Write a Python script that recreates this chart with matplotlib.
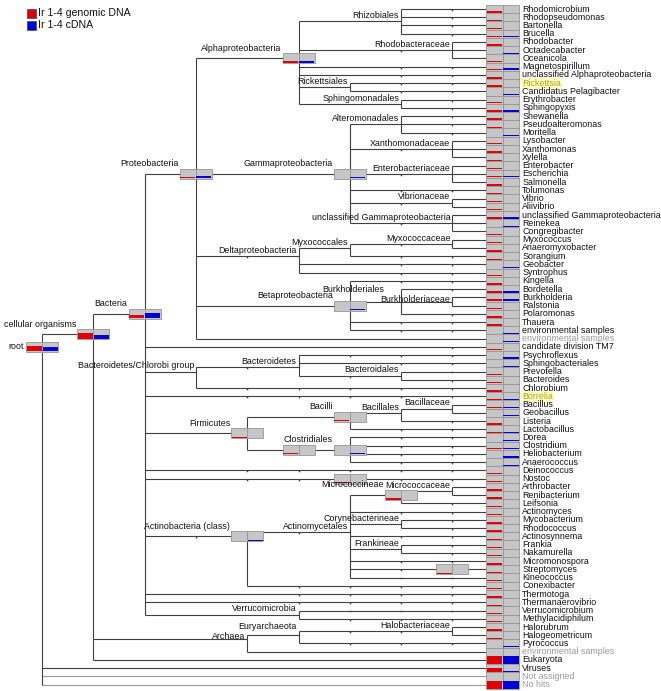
import matplotlib
matplotlib.use("Agg")
import matplotlib.pyplot as plt
from matplotlib.patches import Rectangle
import numpy as np

plt.rcParams['font.family'] = ['Liberation Sans', 'DejaVu Sans']

# ---------------- data ----------------
legend_labels = ["Ir 1-4 genomic DNA", "Ir 1-4 cDNA"]

# internal taxa: id, parent, shown label, hidden ranks on incoming edge
node_ids = ["root", "cellular", "Bacteria", "Proteobacteria", "Alpha", "Rhizobiales",
            "Rhodobacteraceae", "Rickettsiales", "Sphingomonadales", "Gamma",
            "Alteromonadales", "Xanthomonadaceae", "Enterobacteriaceae", "Vibrionaceae",
            "uGamma", "Delta", "Myxococcales", "Myxococcaceae", "Beta", "Burkholderiales",
            "Burkholderiaceae", "BCgroup", "Bacteroidetes", "Bacteroidales", "Firmicutes",
            "Bacilli", "Bacillales", "Bacillaceae", "Clostridia", "Clostridiales",
            "Cyanobacteria", "Actinobacteria", "Actinomycetales", "Micrococcineae",
            "Micrococcaceae", "Corynebacterineae", "Frankineae", "Streptomycetaceae",
            "Verrucomicrobia", "Archaea", "Euryarchaeota", "Halobacteriaceae"]
node_parent = [None, "root", "cellular", "Bacteria", "Proteobacteria", "Alpha",
               "Alpha", "Alpha", "Alpha", "Proteobacteria",
               "Gamma", "Gamma", "Gamma", "Gamma",
               "Gamma", "Proteobacteria", "Delta", "Myxococcales", "Proteobacteria", "Beta",
               "Burkholderiales", "Bacteria", "BCgroup", "Bacteroidetes", "Bacteria",
               "Firmicutes", "Bacilli", "Bacillales", "Firmicutes", "Clostridia",
               "Bacteria", "Bacteria", "Actinobacteria", "Actinomycetales",
               "Micrococcineae", "Actinomycetales", "Actinomycetales", "Actinomycetales",
               "Bacteria", "cellular", "Archaea", "Euryarchaeota"]
node_label = ["root", "cellular organisms", "Bacteria", "Proteobacteria", "Alphaproteobacteria",
              "Rhizobiales", "Rhodobacteraceae", "Rickettsiales", "Sphingomonadales",
              "Gammaproteobacteria", "Alteromonadales", "Xanthomonadaceae", "Enterobacteriaceae",
              "Vibrionaceae", "unclassified Gammaproteobacteria", "Deltaproteobacteria",
              "Myxococcales", "Myxococcaceae", "Betaproteobacteria", "Burkholderiales",
              "Burkholderiaceae", "Bacteroidetes/Chlorobi group", "Bacteroidetes",
              "Bacteroidales", "Firmicutes", "Bacilli", "Bacillales", "Bacillaceae", "",
              "Clostridiales", "", "Actinobacteria (class)", "Actinomycetales",
              "Micrococcineae", "Micrococcaceae", "Corynebacterineae", "Frankineae", "",
              "Verrucomicrobia", "Archaea", "Euryarchaeota", "Halobacteriaceae"]
node_hidden = [0, 0, 0, 0, 0, 0, 1, 0, 0, 0,
               0, 1, 1, 1, 1, 1, 0, 1, 0, 0,
               0, 0, 1, 1, 0, 0, 0, 0, 0, 0,
               2, 1, 1, 0, 0, 0, 0, 1, 0, 0, 0, 2]
# taxa with assigned reads (drawn as a two-part box) and their bar fractions
box_ids = ["root", "cellular", "Bacteria", "Proteobacteria", "Alpha", "Gamma", "Beta",
           "Firmicutes", "Bacilli", "Clostridia", "Clostridiales", "Cyanobacteria",
           "Actinobacteria", "Micrococcineae", "Streptomycetaceae"]
box_genomic = [0.55, 0.55, 0.36, 0.12, 0.22, 0.0, 0.0, 0.10, 0.11, 0.10, 0.0, 0.10,
               0.0, 0.12, 0.11]
box_cdna = [0.46, 0.37, 0.55, 0.22, 0.22, 0.10, 0.10, 0.0, 0.0, 0.0, 0.13, 0.0,
            0.10, 0.0, 0.0]

leaf_names = ["Rhodomicrobium", "Rhodopseudomonas", "Bartonella", "Brucella", "Rhodobacter",
              "Octadecabacter", "Oceanicola", "Magnetospirillum",
              "unclassified Alphaproteobacteria", "Rickettsia", "Candidatus Pelagibacter",
              "Erythrobacter", "Sphingopyxis", "Shewanella", "Pseudoalteromonas", "Moritella",
              "Lysobacter", "Xanthomonas", "Xylella", "Enterobacter", "Escherichia",
              "Salmonella", "Tolumonas", "Vibrio", "Aliivibrio",
              "unclassified Gammaproteobacteria", "Reinekea", "Congregibacter", "Myxococcus",
              "Anaeromyxobacter", "Sorangium", "Geobacter", "Syntrophus", "Kingella",
              "Bordetella", "Burkholderia", "Ralstonia", "Polaromonas", "Thauera",
              "environmental samples", "environmental samples", "candidate division TM7",
              "Psychroflexus", "Sphingobacteriales", "Prevotella", "Bacteroides", "Chlorobium",
              "Borrelia", "Bacillus", "Geobacillus", "Listeria", "Lactobacillus", "Dorea",
              "Clostridium", "Heliobacterium", "Anaerococcus", "Deinococcus", "Nostoc",
              "Arthrobacter", "Renibacterium", "Leifsonia", "Actinomyces", "Mycobacterium",
              "Rhodococcus", "Actinosynnema", "Frankia", "Nakamurella", "Micromonospora",
              "Streptomyces", "Kineococcus", "Conexibacter", "Thermotoga", "Thermanaerovibrio",
              "Verrucomicrobium", "Methylacidiphilum", "Halorubrum", "Halogeometricum",
              "Pyrococcus", "environmental samples", "Eukaryota", "Viruses", "Not assigned",
              "No hits"]
leaf_parent = ["Rhizobiales"] * 4 + ["Rhodobacteraceae"] * 3 + ["Alpha"] * 2 + \
              ["Rickettsiales"] * 2 + ["Sphingomonadales"] * 2 + ["Alteromonadales"] * 3 + \
              ["Xanthomonadaceae"] * 3 + ["Enterobacteriaceae"] * 3 + ["Gamma"] + \
              ["Vibrionaceae"] * 2 + ["uGamma"] * 3 + ["Myxococcaceae"] * 2 + \
              ["Myxococcales"] + ["Delta"] * 2 + ["Beta"] + ["Burkholderiales"] + \
              ["Burkholderiaceae"] * 2 + ["Burkholderiales"] + ["Beta"] * 2 + \
              ["Proteobacteria"] + ["Bacteria"] + ["Bacteroidetes"] * 2 + \
              ["Bacteroidales"] * 2 + ["BCgroup"] + ["Bacteria"] + ["Bacillaceae"] * 2 + \
              ["Bacillales"] + ["Bacilli"] + ["Clostridiales"] * 4 + ["Bacteria"] + \
              ["Cyanobacteria"] + ["Micrococcaceae"] * 2 + ["Micrococcineae"] + \
              ["Actinomycetales"] + ["Corynebacterineae"] * 2 + ["Actinomycetales"] + \
              ["Frankineae"] * 2 + ["Actinomycetales"] + ["Streptomycetaceae"] + \
              ["Actinomycetales"] + ["Actinobacteria"] + ["Bacteria"] * 2 + \
              ["Verrucomicrobia"] * 2 + ["Halobacteriaceae"] * 2 + ["Euryarchaeota"] + \
              ["Archaea"] + ["cellular"] + ["root"] * 3
leaf_hidden = [1, 1, 1, 1, 0, 0, 0, 2, 2, 2, 2, 1, 1, 1, 1, 1, 0, 0, 0, 0, 0, 0, 2, 0, 0,
               0, 0, 0, 0, 0, 2, 2, 2, 2, 1, 0, 0, 1, 2, 2, 0, 1, 3, 2, 1, 1, 5, 5, 0, 0,
               1, 2, 2, 2, 2, 2, 5, 2, 0, 0, 1, 2, 1, 1, 2, 1, 1, 2, 0, 2, 4, 4, 4, 3, 3,
               0, 0, 3, 0, 0, 0, 0, 0]
leaf_genomic = [0.08, 0.10, 0.05, 0.10, 0.10, 0.0, 0.13, 0.05, 0.10, 0.22, 0.0, 0.06,
                0.05, 0.08, 0.13, 0.0, 0.10, 0.10, 0.15, 0.10, 0.08, 0.12, 0.12, 0.12,
                0.10, 0.10, 0.0, 0.08, 0.08, 0.06, 0.06, 0.0, 0.10, 0.10, 0.05, 0.20,
                0.06, 0.08, 0.06, 0.0, 0.0, 0.12, 0.0, 0.0, 0.06, 0.10, 0.10, 0.10,
                0.15, 0.0, 0.10, 0.10, 0.0, 0.15, 0.0, 0.0, 0.06, 0.10, 0.20, 0.10,
                0.10, 0.06, 0.10, 0.10, 0.10, 0.10, 0.10, 0.10, 0.12, 0.10, 0.10, 0.10,
                0.10, 0.10, 0.10, 0.10, 0.10, 0.0, 0.0, 1.00, 0.45, 0.0, 1.00]
leaf_cdna = [0.00, 0.00, 0.00, 0.10, 0.00, 0.10, 0.00, 0.25, 0.00, 0.00, 0.15, 0.00,
             0.10, 0.00, 0.00, 0.10, 0.00, 0.00, 0.00, 0.00, 0.10, 0.00, 0.00, 0.00,
             0.00, 0.08, 0.10, 0.00, 0.00, 0.00, 0.00, 0.12, 0.00, 0.00, 0.08, 0.20,
             0.00, 0.00, 0.00, 0.12, 0.10, 0.00, 0.10, 0.10, 0.00, 0.00, 0.00, 0.08,
             0.05, 0.10, 0.00, 0.10, 0.06, 0.08, 0.10, 0.10, 0.00, 0.00, 0.00, 0.00,
             0.00, 0.00, 0.00, 0.00, 0.00, 0.00, 0.00, 0.00, 0.00, 0.00, 0.00, 0.00,
             0.00, 0.00, 0.00, 0.00, 0.00, 0.08, 0.00, 1.00, 0.12, 0.00, 1.00]
grey_leaves = [40, 78, 81, 82]
highlight_leaves = [9, 47]
label_shift = {"Burkholderiales": (-15, -6), "Burkholderiaceae": (0, 4),
               "Euryarchaeota": (0, -3), "Archaea": (0, 2.5)}

# ---------------- layout ----------------
W, H = 661, 691
X0, STEP = 42.0, 51.3          # column spacing
ROW0, ROWH = 9.0, 8.24         # leaf row spacing
CELL_L, CELL_W = 486.0, 16.6
BOX_W, BOX_H = 16.0, 10.0
RED, BLUE = "#e00000", "#0000d8"
GREYBOX, EDGE = "#c6c6c6", "#969696"
LINE = "#404040"
FS = 6.4

fig = plt.figure(figsize=(W / 100, H / 100), dpi=100)
ax = fig.add_axes([0, 0, 1, 1])
ax.set_xlim(0, W)
ax.set_ylim(H, 0)
ax.axis("off")

nleaf = len(leaf_names)
leaf_y = ROW0 + ROWH * np.arange(nleaf)
children = {n: [] for n in node_ids}
for n, p in zip(node_ids, node_parent):
    if p is not None:
        children[p].append(("node", n))
for i, p in enumerate(leaf_parent):
    children[p].append(("leaf", i))
hidden_of = dict(zip(node_ids, node_hidden))

height, leaves_of = {}, {}


def visit(n):
    h, lv = 0, []
    for kind, c in children[n]:
        if kind == "leaf":
            h = max(h, 1 + leaf_hidden[c])
            lv.append(c)
        else:
            visit(c)
            h = max(h, height[c] + 1 + hidden_of[c])
            lv += leaves_of[c]
    height[n], leaves_of[n] = h, lv


visit("root")
ncol = height["root"]
node_x = {n: X0 + STEP * (ncol - height[n]) for n in node_ids}
node_y = {n: float(np.mean(leaf_y[leaves_of[n]])) for n in node_ids}


def dots(col_child, k, y):
    for j in range(1, k + 1):
        ax.plot(X0 + STEP * (col_child - j), y + 0.9, marker="s", ms=1.1, color=LINE,
                mec="none", zorder=3)


# edges
for n in node_ids:
    px, py = node_x[n], node_y[n]
    ys = []
    for kind, c in children[n]:
        if kind == "leaf":
            cy = leaf_y[c]
            col = ncol
            col_c = "#9a9a9a" if c in (81, 82) else LINE
            ax.plot([px, CELL_L], [cy, cy], color=col_c, lw=0.8, zorder=2,
                    solid_capstyle="butt")
            dots(col, leaf_hidden[c], cy)
        else:
            cy = node_y[c]
            col = ncol - height[c]
            ax.plot([px, node_x[c]], [cy, cy], color=LINE, lw=0.8, zorder=2,
                    solid_capstyle="butt")
            dots(col, hidden_of[c], cy)
        ys.append(cy)
    if ys:
        ax.plot([px, px], [min(ys), max(ys)], color=LINE, lw=0.8, zorder=2,
                solid_capstyle="butt")


def two_cells(xl, ytop, w, h, vg, vc, z):
    for k, (v, c) in enumerate(((vg, RED), (vc, BLUE))):
        x = xl + k * w
        ax.add_patch(Rectangle((x, ytop), w, h, facecolor=GREYBOX, edgecolor=EDGE, lw=0.6,
                               zorder=z))
        if v > 0:
            bh = max(min(v, 1.0) * h, 1.3)
            off = 0.0 if v >= 0.99 else 0.5
            ax.add_patch(Rectangle((x + 0.5, ytop + h - bh - off), w - 1.0, bh, facecolor=c,
                                   edgecolor="none", zorder=z + 0.2))


# node boxes
for n, vg, vc in zip(box_ids, box_genomic, box_cdna):
    two_cells(node_x[n] - BOX_W, node_y[n] - BOX_H / 2, BOX_W, BOX_H, vg, vc, 5)

# leaf cells
for i in range(nleaf):
    two_cells(CELL_L, leaf_y[i] - ROWH / 2, CELL_W, ROWH, leaf_genomic[i], leaf_cdna[i], 5)

# leaf labels
for i, name in enumerate(leaf_names):
    kw = dict(fontsize=FS, va="center", ha="left", color="#111111", zorder=6)
    if i in grey_leaves:
        kw["color"] = "#9a9a9a"
    if i in highlight_leaves:
        kw["color"] = "#b0a020"
        kw["bbox"] = dict(boxstyle="square,pad=0.1", facecolor="#ffffc4", edgecolor="none")
    ax.text(CELL_L + 2 * CELL_W + 3, leaf_y[i], name, **kw)

# node labels
boxed = set(box_ids)
for n, lab in zip(node_ids, node_label):
    if not lab:
        continue
    x, y = node_x[n], node_y[n]
    dx, dy = label_shift.get(lab, (0, 0))
    if n == "root":
        ax.text(x - BOX_W - 2, y, lab, fontsize=FS, ha="right", va="center", color="#111111",
                zorder=6)
    elif n in boxed:
        ax.text(x - BOX_W - 1 + dx, y - BOX_H / 2 - 0.8 + dy, lab, fontsize=FS, ha="right",
                va="bottom", color="#111111", zorder=6)
    else:
        ax.text(x - 2 + dx, y - 1.2 + dy, lab, fontsize=FS, ha="right", va="bottom",
                color="#111111", zorder=6)

# legend
for k, (lab, c) in enumerate(zip(legend_labels, (RED, BLUE))):
    yy = 9 + 12 * k
    ax.add_patch(Rectangle((27, yy), 8.5, 8.5, facecolor=c, edgecolor="#555555", lw=0.6,
                           zorder=6))
    ax.text(37.5, yy + 4.4, lab, fontsize=7.6, ha="left", va="center", color="#111111",
            zorder=6)

fig.savefig("out.png", dpi=100)
